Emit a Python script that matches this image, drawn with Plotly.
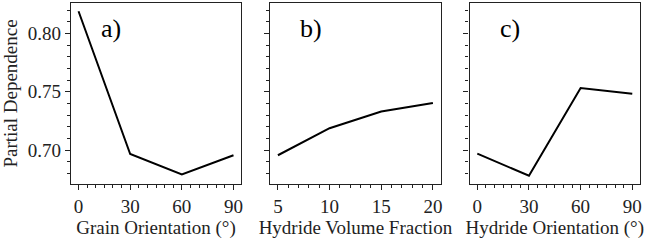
import plotly.graph_objects as go

grain_orientation = [0, 30, 60, 90]
pd_grain = [0.819, 0.6966, 0.679, 0.6955]

volume_fraction = [5, 10, 15, 20]
pd_volume = [0.6955, 0.7187, 0.733, 0.7404]

hydride_orientation = [0, 30, 60, 90]
pd_hydride = [0.6969, 0.6779, 0.7532, 0.7483]

x_titles = ["Grain Orientation (°)", "Hydride Volume Fraction", "Hydride Orientation (°)"]
panel_labels = ["a)", "b)", "c)"]
y_title = "Partial Dependence"
y_ticks = [0.70, 0.75, 0.80]
x_ticks = [[0, 30, 60, 90], [5, 10, 15, 20], [0, 30, 60, 90]]
x_minor = [5, 1, 5]

series = [(grain_orientation, pd_grain), (volume_fraction, pd_volume), (hydride_orientation, pd_hydride)]

W, H = 649, 241
FONT = "Liberation Serif, Times New Roman, DejaVu Serif, serif"
fig = go.Figure()

x_pix = [(71, 242), (271, 442), (471, 642)]
y_dom = [(H - 184) / H, (H - 3) / H]

all_y = pd_grain + pd_volume + pd_hydride
ymin, ymax = min(all_y), max(all_y)
ypad = 0.05 * (ymax - ymin)

for i, (xs, ys) in enumerate(series):
    n = "" if i == 0 else str(i + 1)
    fig.add_trace(go.Scatter(x=xs, y=ys, mode="lines",
                             line=dict(color="black", width=2),
                             xaxis="x" + n, yaxis="y" + n, showlegend=False))
    xpad = 0.05 * (max(xs) - min(xs))
    fig.update_layout(**{
        "xaxis" + n: dict(
            domain=[x_pix[i][0] / W, x_pix[i][1] / W], anchor="y" + n,
            range=[min(xs) - xpad, max(xs) + xpad],
            tickvals=x_ticks[i], ticks="outside", ticklen=5, tickwidth=1, tickcolor="#222",
            minor=dict(dtick=x_minor[i], tick0=0, ticks="outside", ticklen=3, tickwidth=1, tickcolor="#222"),
            showline=True, mirror=True, linecolor="#222", linewidth=1.2,
            showgrid=False, zeroline=False,
            tickfont=dict(family=FONT, size=19, color="#222"),
            title=dict(text=x_titles[i], font=dict(family=FONT, size=19, color="#222"), standoff=4),
        ),
        "yaxis" + n: dict(
            domain=list(y_dom), anchor="x" + n,
            range=[ymin - ypad, ymax + ypad],
            tickvals=y_ticks, ticktext=[f"{v:.2f}" for v in y_ticks],
            showticklabels=(i == 0),
            ticks="outside", ticklen=5, tickwidth=1, tickcolor="#222",
            minor=dict(dtick=0.01, tick0=0, ticks="outside", ticklen=3, tickwidth=1, tickcolor="#222"),
            showline=True, mirror=True, linecolor="#222", linewidth=1.2,
            showgrid=False, zeroline=False,
            tickfont=dict(family=FONT, size=19, color="#222"),
            title=dict(text=y_title if i == 0 else "", font=dict(family=FONT, size=19, color="#222"), standoff=7),
        ),
    })
    fig.add_annotation(text=panel_labels[i], xref=("x" + n + " domain"), yref=("y" + n + " domain"),
                       x=0.165, y=0.86, xanchor="left", yanchor="middle", showarrow=False,
                       font=dict(family=FONT, size=26, color="black"))

fig.update_layout(width=W, height=H, margin=dict(l=0, r=0, t=0, b=0),
                  paper_bgcolor="white", plot_bgcolor="white",
                  font=dict(family=FONT))
fig.write_html("out.html", config={"displayModeBar": False},
               post_script="document.body.style.margin='0';document.body.style.overflow='hidden';")
